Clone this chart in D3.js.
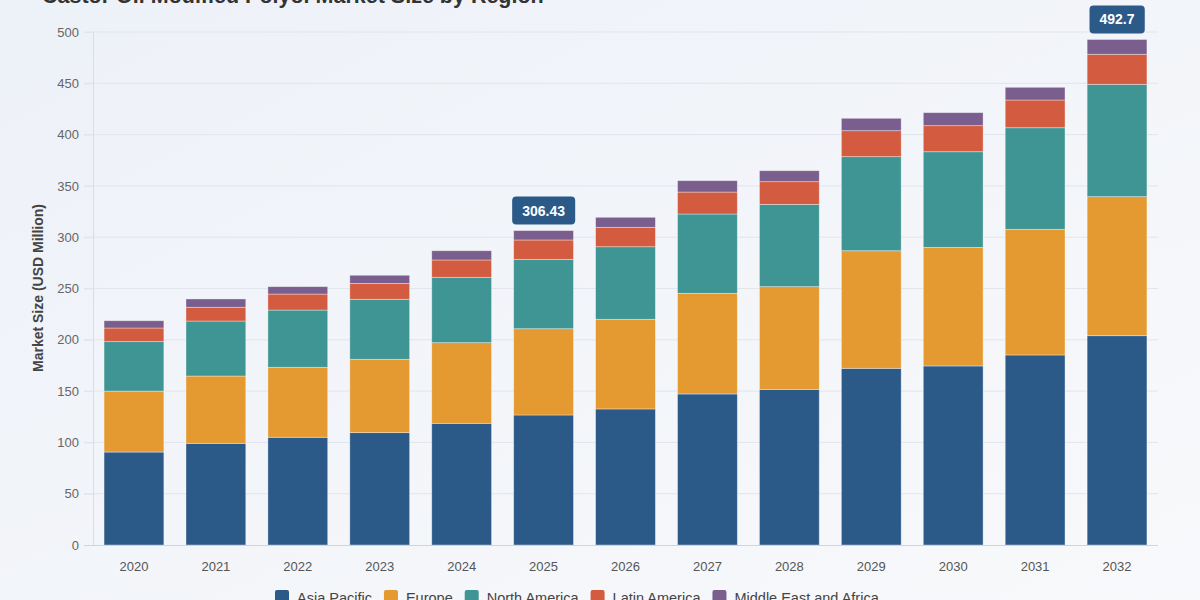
<!DOCTYPE html>
<html><head><meta charset="utf-8">
<script src="https://cdn.jsdelivr.net/npm/d3@7/dist/d3.min.js"></script>
<style>
html,body{margin:0;padding:0;}
body{width:1200px;height:600px;overflow:hidden;font-family:"Liberation Sans",Arial,sans-serif;}
</style></head>
<body>
<svg id="chart" width="1200" height="600"></svg>
<script>
const years = ["2020","2021","2022","2023","2024","2025","2026","2027","2028","2029","2030","2031","2032"];
const regions = ["Asia Pacific","Europe","North America","Latin America","Middle East and Africa"];
const asiaPacific  = [90.6, 99.1, 105.0, 109.5, 118.6, 126.7, 132.6, 147.2, 151.7, 172.2, 174.5, 185.2, 204.0];
const europe       = [59.4, 65.6, 68.2, 71.5, 78.6, 84.1, 87.4, 98.1, 100.1, 114.6, 115.6, 122.5, 135.5];
const northAmerica = [48.2, 53.6, 55.8, 58.5, 63.7, 67.6, 70.7, 77.3, 80.2, 91.7, 93.2, 99.0, 109.5];
const latinAmerica = [13.3, 13.4, 15.6, 15.5, 16.9, 18.9, 18.9, 21.4, 22.1, 25.3, 25.4, 27.0, 29.3];
const mea          = [7.1, 8.1, 7.2, 7.9, 9.0, 9.13, 9.8, 11.1, 10.7, 12.1, 12.7, 12.4, 14.4];
const yTicks = [0,50,100,150,200,250,300,350,400,450,500];
const annotated = [{year:"2025", label:"306.43"}, {year:"2032", label:"492.7"}];
const colors = ["#2b5a89","#e49a31","#3f9593","#d35b3f","#7a5f8e"];
const title = "Castor Oil Modified Polyol Market Size by Region";
const yTitle = "Market Size (USD Million)";

(function(){
const series = [asiaPacific, europe, northAmerica, latinAmerica, mea];
const rows = years.map((yr,i)=>{ const r={year:yr}; regions.forEach((k,j)=>r[k]=series[j][i]); return r; });

const svg = d3.select("#chart");
const defs = svg.append("defs");
const grad = defs.append("linearGradient").attr("id","bg").attr("x1","0").attr("y1","0").attr("x2","1").attr("y2","1");
grad.append("stop").attr("offset","0%").attr("stop-color","#edf1f8");
grad.append("stop").attr("offset","100%").attr("stop-color","#f8f9fb");
svg.append("rect").attr("width",1200).attr("height",600).attr("fill","url(#bg)");

const mLeft=93, mRight=1158, mTop=32, mBottom=545;
const x = d3.scaleBand().domain(years).range([mLeft,mRight]).paddingInner(0.27).paddingOuter(0.135);
const y = d3.scaleLinear().domain([0,500]).range([mBottom,mTop]);

svg.append("g").selectAll("line").data(yTicks.filter(t=>t>0)).join("line")
  .attr("x1",mLeft-9).attr("x2",mRight).attr("y1",d=>y(d)).attr("y2",d=>y(d))
  .attr("stroke","#e1e5ec").attr("stroke-width",1);

const yAxis = svg.append("g").attr("transform",`translate(${mLeft},0)`)
  .call(d3.axisLeft(y).tickValues(yTicks).tickSize(9).tickPadding(5));
yAxis.select(".domain").attr("stroke","#d9dde4");
yAxis.selectAll(".tick line").attr("stroke","#e1e5ec");
yAxis.selectAll(".tick text").attr("fill","#666").style("font-size","13px").style("font-family","'Liberation Sans',Arial,sans-serif");

const stack = d3.stack().keys(regions)(rows);
svg.append("g").selectAll("g").data(stack).join("g")
  .attr("fill",(d,i)=>colors[i])
  .selectAll("rect").data(d=>d).join("rect")
  .attr("x",d=>x(d.data.year)).attr("width",x.bandwidth())
  .attr("y",d=>y(d[1])).attr("height",d=>y(d[0])-y(d[1]))
  .attr("stroke","rgba(255,255,255,0.45)").attr("stroke-width",0.8);

const xAxis = svg.append("g").attr("transform",`translate(0,${mBottom})`)
  .call(d3.axisBottom(x).tickSize(0).tickPadding(17));
xAxis.select(".domain").attr("stroke","#d0d4dc").attr("d",`M${mLeft-9},0.5H${mRight}`);
xAxis.selectAll(".tick text").attr("fill","#555").style("font-size","13px").style("font-family","'Liberation Sans',Arial,sans-serif");

const totals = years.map((yr,i)=>d3.sum(series,s=>s[i]));
annotated.forEach(a=>{
  const i = years.indexOf(a.year);
  const cx = x(a.year)+x.bandwidth()/2;
  const g = svg.append("g");
  const t = g.append("text").attr("x",cx).attr("y",y(totals[i])-15)
    .attr("text-anchor","middle").attr("fill","#fff").style("font-weight","bold")
    .style("font-size","14px").text(a.label);
  const bb = t.node().getBBox();
  g.insert("rect","text").attr("x",bb.x-10).attr("y",y(totals[i])-34).attr("width",bb.width+20).attr("height",28)
    .attr("rx",4).attr("fill","#2b5a89");
});

svg.append("text").attr("x",42).attr("y",3).attr("fill","#333").style("font-weight","bold")
  .style("font-size","21.5px").text(title);

svg.append("text").attr("transform","translate(43,288) rotate(-90)").attr("text-anchor","middle")
  .attr("fill","#444").style("font-weight","bold").style("font-size","14px").text(yTitle);

const legend = svg.append("g");
let lx = 275;
regions.forEach((r,i)=>{
  legend.append("rect").attr("x",lx).attr("y",590).attr("width",14).attr("height",14).attr("rx",2).attr("fill",colors[i]);
  const t = legend.append("text").attr("x",lx+22).attr("y",603).attr("fill","#444").style("font-size","14.5px").text(r);
  lx += 22 + t.node().getComputedTextLength() + 12;
});
})();
</script>
</body></html>
